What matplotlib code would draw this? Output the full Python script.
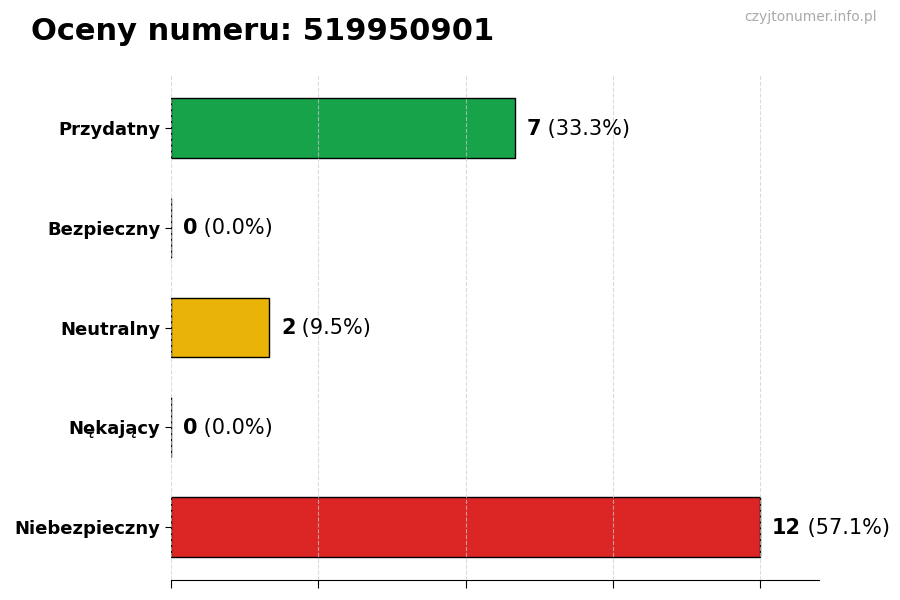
import matplotlib.pyplot as plt
import numpy as np

categories = ['Przydatny', 'Bezpieczny', 'Neutralny', 'Nękający', 'Niebezpieczny']
counts = [7, 0, 2, 0, 12]
colors = ['#16a34a', '#9ca3af', '#eab308', '#f97316', '#dc2626']
title = 'Oceny numeru: 519950901'
watermark = 'czyjtonumer.info.pl'

total = sum(counts)
percents = [100 * c / total for c in counts]

fig = plt.figure(figsize=(9, 6), dpi=100)
ax = fig.add_axes([0.19, 0.0333, 0.72, 0.8417])

y = np.arange(len(categories))
ax.barh(y, counts, height=0.6, color=colors, edgecolor='black', linewidth=1)
ax.invert_yaxis()
ax.set_xlim(0, max(counts) * 1.1)
ax.set_xticks(np.arange(0, max(counts) + 1, 3))
ax.set_xticklabels([])
ax.tick_params(axis='x', length=6)
ax.tick_params(axis='y', length=4)
ax.set_yticks(y)
ax.set_yticklabels(categories, fontsize=13, fontweight='bold')

ax.grid(axis='x', linestyle='--', color='#cccccc', alpha=0.7, linewidth=0.8)
ax.set_axisbelow(False)
for s in ['top', 'right', 'left']:
    ax.spines[s].set_visible(False)

for yi, c, p in zip(y, counts, percents):
    t = ax.annotate(str(c), xy=(c, yi), xytext=(8.5, -0.5), textcoords='offset points',
                    va='center', ha='left', fontsize=15, fontweight='bold')
    ax.annotate(f' ({p:.1f}%)', xy=(1, 0.5), xycoords=t, va='center', ha='left', fontsize=15)

fig.text(0.034, 0.948, title, fontsize=22, fontweight='bold', va='center', ha='left')
fig.text(0.974, 0.971, watermark, fontsize=10, color='#aaaaaa', va='center', ha='right')

plt.savefig('out.png', dpi=100)
